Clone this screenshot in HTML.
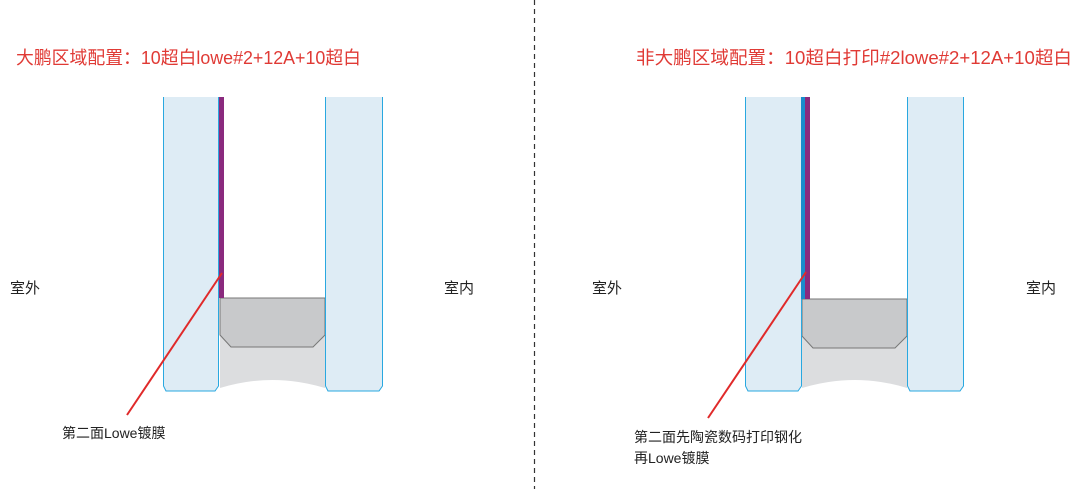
<!DOCTYPE html>
<html><head><meta charset="utf-8"><style>
body{margin:0;background:#fff;}
svg{display:block;}
text{font-family:"Liberation Sans","Noto Sans CJK SC",sans-serif;}
</style></head><body>
<svg width="1080" height="489" viewBox="0 0 1080 489" xmlns="http://www.w3.org/2000/svg">
<line x1="534.5" y1="0" x2="534.5" y2="489" stroke="#333" stroke-width="1.2" stroke-dasharray="5,4"/>
<text x="16" y="64" font-size="18" fill="#e03a35" textLength="345" lengthAdjust="spacingAndGlyphs">大鹏区域配置：10超白lowe#2+12A+10超白</text>
<text x="636" y="64" font-size="18" fill="#e03a35" textLength="436" lengthAdjust="spacingAndGlyphs">非大鹏区域配置：10超白打印#2lowe#2+12A+10超白</text>
<text x="10" y="293" font-size="15" fill="#222">室外</text>
<text x="444" y="293" font-size="15" fill="#222">室内</text>
<text x="592" y="293" font-size="15" fill="#222">室外</text>
<text x="1026" y="293" font-size="15" fill="#222">室内</text>

<!-- left unit -->
<g>
<path d="M220 300 L325 300 L325 388 Q272 372 220 388 Z" fill="#dcdddf"/>
<path d="M220 298 L325 298 L325 335 L313 347 L231 347 L220 335 Z" fill="#c8c9cb" stroke="#777" stroke-width="1"/>
<path d="M163.5 97 L163.5 386 L166 391 L215 391 L218.5 386 L218.5 97" fill="#deecf5" stroke="#29a8e0" stroke-width="1"/>
<path d="M325.5 97 L325.5 386 L328 391 L379 391 L382.5 386 L382.5 97" fill="#deecf5" stroke="#29a8e0" stroke-width="1"/>
<rect x="219" y="97" width="5" height="201" fill="#8a2a7e"/>
<line x1="222" y1="273" x2="127" y2="415" stroke="#e02a2a" stroke-width="2"/>
</g>
<text x="62" y="438" font-size="14" fill="#222">第二面Lowe镀膜</text>

<!-- right unit -->
<g>
<path d="M802 300 L907 300 L907 388 Q855 372 802 388 Z" fill="#dcdddf"/>
<path d="M802 299 L907 299 L907 336 L895 348 L813 348 L802 336 Z" fill="#c8c9cb" stroke="#777" stroke-width="1"/>
<path d="M745.5 97 L745.5 386 L748 391 L798 391 L801.5 386 L801.5 97" fill="#deecf5" stroke="#29a8e0" stroke-width="1"/>
<path d="M907.5 97 L907.5 386 L910 391 L960 391 L963.5 386 L963.5 97" fill="#deecf5" stroke="#29a8e0" stroke-width="1"/>
<rect x="801" y="97" width="4" height="202" fill="#1a8ccc"/>
<rect x="805" y="97" width="5" height="202" fill="#8a2a7e"/>
<line x1="806" y1="272" x2="708" y2="418" stroke="#e02a2a" stroke-width="2"/>
</g>
<text x="634" y="442" font-size="14" fill="#222">第二面先陶瓷数码打印钢化</text>
<text x="634" y="463" font-size="14" fill="#222">再Lowe镀膜</text>
</svg>
</body></html>
